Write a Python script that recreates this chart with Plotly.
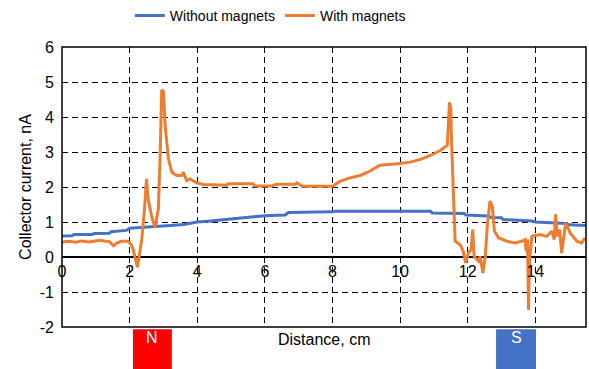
import plotly.graph_objects as go

# ---- data ----
without_x = [0, 0.3, 0.35, 0.9, 0.95, 1.4, 1.45, 1.9, 2.0, 2.6, 3.2, 3.6, 4.0, 4.4, 4.8, 5.2, 5.6, 6.0,
             6.6, 6.7, 8.0, 8.1, 10.9, 10.95, 11.9, 11.95, 12.6, 12.7, 13.0, 13.05, 13.9, 14.0, 14.9, 15.0, 15.5]
without_y = [0.6, 0.61, 0.64, 0.64, 0.67, 0.68, 0.72, 0.76, 0.82, 0.85, 0.9, 0.93, 1.0, 1.03, 1.07, 1.1, 1.13, 1.18,
             1.2, 1.27, 1.29, 1.31, 1.31, 1.26, 1.24, 1.2, 1.17, 1.13, 1.12, 1.07, 1.03, 1.0, 0.96, 0.92, 0.9]

with_x = [0.0, 0.2, 0.4, 0.6, 0.8, 1.0, 1.12, 1.3, 1.4, 1.52, 1.62, 1.75, 1.95, 2.05, 2.11, 2.23, 2.3, 2.36,
          2.44, 2.5, 2.55, 2.65, 2.75, 2.85, 2.9, 2.95, 3.0, 3.05, 3.15, 3.25, 3.39, 3.54, 3.59, 3.69, 3.79,
          3.98, 4.18, 4.87, 4.92, 5.65, 5.7, 6.2, 6.35, 6.9, 6.95, 7.04, 7.1, 8.0, 8.22, 8.52, 8.82, 9.1,
          9.4, 10.0, 10.3, 10.6, 10.9, 11.2, 11.4, 11.46, 11.5, 11.52, 11.58, 11.63, 11.78, 11.87, 11.94,
          12.02, 12.1, 12.15, 12.19, 12.32, 12.37, 12.45, 12.52, 12.58, 12.66, 12.73, 12.79, 12.91, 13.16,
          13.4, 13.6, 13.7, 13.73, 13.77, 13.8, 13.83, 13.9, 14.14, 14.34, 14.49, 14.56, 14.6, 14.65, 14.72,
          14.78, 14.83, 14.9, 15.03, 15.23, 15.37, 15.47]
with_y = [0.43, 0.45, 0.42, 0.46, 0.43, 0.46, 0.48, 0.45, 0.44, 0.32, 0.40, 0.45, 0.45, 0.35, 0.2, -0.29, 0.1, 0.5,
          1.37, 2.23, 1.65, 1.17, 0.84, 1.37, 2.8, 4.78, 4.73, 3.77, 2.8, 2.42, 2.33, 2.33, 2.42, 2.18, 2.23,
          2.12, 2.07, 2.05, 2.09, 2.09, 2.03, 2.03, 2.08, 2.08, 2.12, 2.07, 2.02, 2.02, 2.16, 2.26, 2.33, 2.45,
          2.62, 2.67, 2.71, 2.79, 2.9, 3.05, 3.2, 4.42, 4.28, 3.37, 1.84, 0.45, 0.35, 0.16, -0.17,
          0.11, 0.21, 0.78, 0.02, -0.12, 0.02, -0.46, 0.02, 0.88, 1.6, 1.45, 0.74, 0.55, 0.45,
          0.4, 0.45, 0.5, 0.16, 0.5, -1.51, -0.08, 0.59, 0.64, 0.59, 0.74, 0.5, 1.22, 0.59, 0.78,
          0.11, 0.5, 0.98, 0.69, 0.45, 0.4, 0.55]

x_ticks = [0, 2, 4, 6, 8, 10, 12, 14]
x_tick_labels = ["0", "2", "4", "6", "8", "10", "12", "14"]
y_ticks = [-2, -1, 0, 1, 2, 3, 4, 5, 6]
y_tick_labels = ["-2", "-1", "0", "1", "2", "3", "4", "5", "6"]

magnet_labels = ["N", "S"]
magnet_x0 = [2.1, 12.84]
magnet_x1 = [3.25, 14.02]
magnet_colors = ["#FF0000", "#4472C4"]

BLUE = "#4472C4"
ORANGE = "#ED7D31"
FONT = "Liberation Sans, Arial, sans-serif"

fig = go.Figure()
fig.add_trace(go.Scatter(x=without_x, y=without_y, mode="lines", name="Without magnets",
                         line=dict(color=BLUE, width=3)))
fig.add_trace(go.Scatter(x=with_x, y=with_y, mode="lines", name="With magnets",
                         line=dict(color=ORANGE, width=3)))

# frame
fig.add_shape(type="rect", xref="paper", yref="paper", x0=0, x1=1, y0=0, y1=1,
              line=dict(color="black", width=1.5), layer="above")

for lab, x0, x1, c in zip(magnet_labels, magnet_x0, magnet_x1, magnet_colors):
    fig.add_shape(type="rect", xref="x", yref="paper", x0=x0, x1=x1, y0=-0.008, y1=-0.16,
                  line=dict(width=0), fillcolor=c, layer="above")
    fig.add_annotation(x=(x0 + x1) / 2, y=-0.075, xref="x", yref="paper", text=lab,
                       showarrow=False, font=dict(family=FONT, size=16, color="white"))

fig.add_annotation(x=0.5, y=-0.045, xref="paper", yref="paper", text="Distance, cm",
                   showarrow=False, yanchor="middle",
                   font=dict(family=FONT, size=16, color="black"))

fig.update_layout(
    width=589, height=369,
    margin=dict(l=62, r=3, t=47, b=42, autoexpand=False),
    paper_bgcolor="white", plot_bgcolor="white",
    font=dict(family=FONT, color="black", size=15),
    showlegend=True,
    legend=dict(orientation="h", xref="container", yref="container", x=0.459, xanchor="center",
                y=0.957, yanchor="middle", font=dict(size=14, family=FONT), itemwidth=30,
                bgcolor="rgba(0,0,0,0)"),
    xaxis=dict(range=[0, 15.5], tickvals=x_ticks, ticktext=x_tick_labels, showgrid=True,
               gridcolor="black", gridwidth=1.2, griddash="6px,4px", zeroline=False,
               showline=False, ticks="", anchor="free", position=0.25, automargin=False,
               ticklabelstandoff=3,
               tickfont=dict(size=16, family=FONT, color="black")),
    yaxis=dict(range=[-2, 6], tickvals=y_ticks, ticktext=y_tick_labels, showgrid=True,
               gridcolor="black", gridwidth=1.2, griddash="6px,4px", zeroline=True,
               zerolinecolor="black", zerolinewidth=1.5, showline=False, ticks="",
               automargin=False, ticklabelstandoff=7,
               tickfont=dict(size=16, family=FONT, color="black"),
               title=dict(text="Collector current, nA", font=dict(size=16, family=FONT), standoff=4)),
)

fig.write_html("out.html", post_script="document.body.style.margin='0';",
               config={"displayModeBar": False})
